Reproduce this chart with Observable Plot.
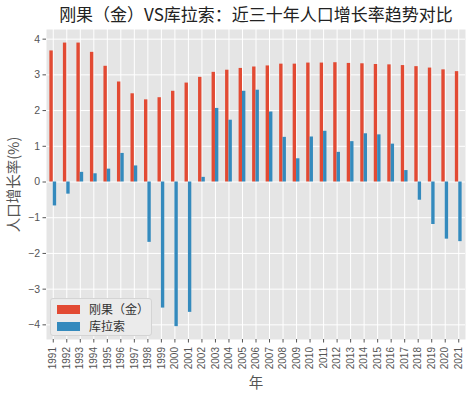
<!DOCTYPE html>
<html><head><meta charset="utf-8">
<script src="https://cdn.jsdelivr.net/npm/d3@7"></script>
<script src="https://cdn.jsdelivr.net/npm/@observablehq/plot@0.6"></script>
<style>
body{margin:0;background:#fff;font-family:"Noto Sans CJK SC","DejaVu Sans",sans-serif;}
#wrap{position:relative;width:474px;height:399px;}
#title{position:absolute;left:46px;width:420px;top:3px;text-align:center;font-size:17px;line-height:22px;color:#222;white-space:nowrap;}
#legend{position:absolute;left:50px;top:298px;width:102px;height:38px;background:#ebebeb;border:1px solid #d4d4d4;border-radius:3px;box-sizing:border-box;font-size:12px;line-height:14px;color:#333;}
.li{position:absolute;left:6px;height:14px;display:flex;align-items:center;}
.sw{width:23px;height:9px;margin-right:9px;}
</style></head>
<body>
<div id="wrap">
<div id="title">刚果（金）VS库拉索：近三十年人口增长率趋势对比</div>
</div>
<script>
const years = ["1991","1992","1993","1994","1995","1996","1997","1998","1999","2000","2001","2002","2003","2004","2005","2006","2007","2008","2009","2010","2011","2012","2013","2014","2015","2016","2017","2018","2019","2020","2021"];
const drc = [3.67,3.89,3.89,3.63,3.24,2.80,2.47,2.30,2.36,2.54,2.77,2.93,3.07,3.13,3.18,3.22,3.25,3.30,3.30,3.33,3.33,3.34,3.32,3.31,3.29,3.28,3.26,3.23,3.19,3.14,3.09];
const cuw = [-0.67,-0.34,0.27,0.23,0.36,0.80,0.45,-1.69,-3.53,-4.05,-3.65,0.13,2.06,1.73,2.54,2.57,1.96,1.25,0.65,1.26,1.42,0.83,1.13,1.35,1.32,1.06,0.32,-0.51,-1.19,-1.60,-1.67];
const seriesNames = ["刚果（金）","库拉索"];
const colors = ["#E24A33","#348ABD"];
const yTicks = [-4,-3,-2,-1,0,1,2,3,4];

const idx = d3.range(years.length);
const rows = [];
idx.forEach(i => {
  rows.push({i, s: 0, v: drc[i]});
  rows.push({i, s: 1, v: cuw[i]});
});

const chart = Plot.plot({
  width: 474, height: 399,
  marginLeft: 46, marginRight: 9, marginTop: 29, marginBottom: 60,
  style: {fontFamily: '"Noto Sans CJK SC","DejaVu Sans",sans-serif', background: "#fff"},
  x: {type: "linear", domain: [-0.5, years.length - 0.5]},
  y: {domain: [-4.41, 4.27]},
  marks: [
    Plot.frame({fill: "#E5E5E5", stroke: null}),
    Plot.gridX(idx, {stroke: "#fff", strokeOpacity: 1, strokeWidth: 1}),
    Plot.gridY(yTicks, {stroke: "#fff", strokeOpacity: 1, strokeWidth: 1}),
    Plot.rectY(rows, {
      x1: d => d.i - 0.25 + d.s * 0.25,
      x2: d => d.i + d.s * 0.25,
      y: "v",
      fill: d => colors[d.s]
    }),
    Plot.axisX(idx, {
      tickFormat: i => years[i], tickRotate: -90, tickSize: 3.5, tickPadding: 4,
      stroke: "#555", fill: "#555", fontSize: 10, fontFamily: '"Liberation Sans",sans-serif',
      label: "年", labelAnchor: "center", labelArrow: "none", labelOffset: 48
    }),
    Plot.axisY(yTicks, {
      tickSize: 3.5, tickPadding: 3, stroke: "#555", fill: "#555", fontSize: 10.5,
      fontFamily: '"Liberation Sans",sans-serif',
      label: "人口增长率(%)", labelAnchor: "center", labelArrow: "none", labelOffset: 38
    })
  ]
});
d3.select(chart).selectAll("[aria-label='x-axis label'] text, [aria-label='y-axis label'] text")
  .style("font-size", "14.5px").style("font-family", '"Noto Sans CJK SC",sans-serif').attr("fill", "#555");
const wrap = document.getElementById("wrap");
wrap.insertBefore(chart, wrap.firstChild);
chart.style.position = "absolute"; chart.style.left = "0"; chart.style.top = "0";

const leg = document.createElement("div");
leg.id = "legend";
seriesNames.forEach((n, k) => {
  const it = document.createElement("div");
  it.className = "li";
  it.style.top = (k === 0 ? 3 : 20) + "px";
  it.innerHTML = `<span class="sw" style="background:${colors[k]}"></span><span>${n}</span>`;
  leg.appendChild(it);
});
wrap.appendChild(leg);
</script>
</body></html>
